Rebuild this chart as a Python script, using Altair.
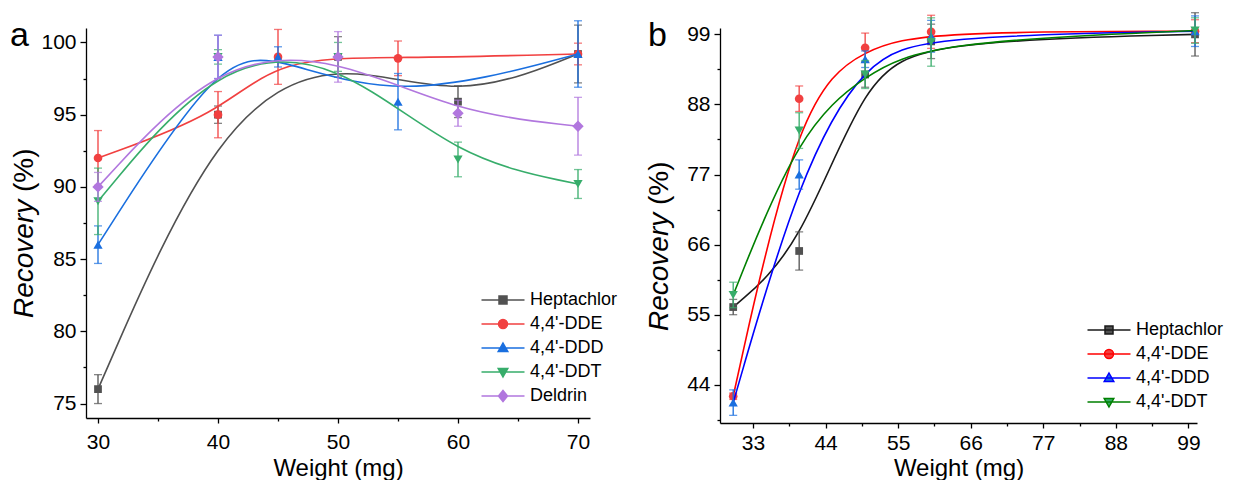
import altair as alt
import pandas as pd

FONT = "Liberation Sans"

# ---------------- Panel a data ----------------
series_a = ["Heptachlor", "4,4'-DDE", "4,4'-DDD", "4,4'-DDT", "Deldrin"]
a_x = {
    "Heptachlor": [30, 40, 50, 60, 70],
    "4,4'-DDE": [30, 40, 45, 55, 70],
    "4,4'-DDD": [30, 40, 45, 55, 70],
    "4,4'-DDT": [30, 40, 50, 60, 70],
    "Deldrin": [30, 40, 50, 60, 70],
}
a_y = {
    "Heptachlor": [76.0, 95.0, 99.0, 95.9, 99.2],
    "4,4'-DDE": [92.0, 95.0, 99.0, 98.9, 99.2],
    "4,4'-DDD": [86.0, 99.0, 99.0, 95.9, 99.2],
    "4,4'-DDT": [89.0, 99.0, 99.0, 91.9, 90.2],
    "Deldrin": [90.0, 99.0, 99.0, 95.1, 94.2],
}
a_err = {
    "Heptachlor": [1.0, 0.6, 1.4, 1.1, 2.0],
    "4,4'-DDE": [1.9, 1.6, 1.9, 1.2, 0.75],
    "4,4'-DDD": [1.3, 1.5, 0.7, 1.95, 2.3],
    "4,4'-DDT": [2.3, 0.5, 1.0, 1.2, 1.0],
    "Deldrin": [1.0, 1.5, 1.75, 0.9, 2.0],
}
a_line_colors = ["#515151", "#F14040", "#1A6FDF", "#37AD6B", "#B177DE"]
a_marker_colors = ["#515151", "#F14040", "#1A6FDF", "#37AD6B", "#B177DE"]
a_shapes = ["square", "circle", "triangle-up", "triangle-down", "diamond"]
a_xticks = [30, 35, 40, 45, 50, 55, 60, 65, 70]
a_yticks = [75, 77.5, 80, 82.5, 85, 87.5, 90, 92.5, 95, 97.5, 100]

# ---------------- Panel b data ----------------
series_b = ["Heptachlor", "4,4'-DDE", "4,4'-DDD", "4,4'-DDT"]
b_x = {s: [30, 40, 50, 60, 100] for s in series_b}
b_y = {
    "Heptachlor": [56.2, 65.0, 92.7, 97.9, 99.0],
    "4,4'-DDE": [42.2, 88.9, 96.9, 99.4, 99.5],
    "4,4'-DDD": [41.2, 77.0, 95.1, 98.7, 99.5],
    "4,4'-DDT": [58.1, 83.9, 92.7, 97.8, 99.6],
}
b_err = {
    "Heptachlor": [1.2, 3.0, 2.0, 2.7, 3.4],
    "4,4'-DDE": [0.5, 2.0, 2.3, 2.6, 1.8],
    "4,4'-DDD": [2.0, 2.3, 1.3, 2.5, 2.4],
    "4,4'-DDT": [2.0, 2.8, 2.2, 3.8, 2.0],
}
b_line_colors = ["#1a1a1a", "#FF0000", "#0000FF", "#008000"]
b_marker_colors = ["#515151", "#F14040", "#1A6FDF", "#37AD6B"]
b_shapes = ["square", "circle", "triangle-up", "triangle-down"]
b_xticks = [33, 38.5, 44, 49.5, 55, 60.5, 66, 71.5, 77, 82.5, 88, 93.5, 99]
b_yticks = [38.5, 44, 49.5, 55, 60.5, 66, 71.5, 77, 82.5, 88, 93.5, 99]

# legend symbol paths: line with marker in the middle
LEG_PATHS = {
    "square": "M-2.15,0H2.15M-0.4,-0.4H0.4V0.4H-0.4Z",
    "circle": "M-2.15,0H2.15M0.45,0A0.45,0.45,0,1,1,-0.45,0A0.45,0.45,0,1,1,0.45,0Z",
    "triangle-up": "M-2.15,0H2.15M0,-0.5L0.48,0.35H-0.48Z",
    "triangle-down": "M-2.15,0H2.15M0,0.5L0.48,-0.35H-0.48Z",
    "diamond": "M-2.15,0H2.15M0,-0.55L0.45,0L0,0.55L-0.45,0Z",
}
MSIZE = {"square": 60, "circle": 75, "triangle-up": 85, "triangle-down": 85, "diamond": 130}


def make_panel(series, xs, ys, es, line_colors, marker_colors, shapes,
               xdom, ydom, xticks, yticks, xmajor, ymajor, width, height,
               leg_x, leg_y, label, label_x, title_x, title_y,
               xlabel_pad, xtitle_pad):
    xaxis = alt.Axis(
        values=xticks, title="Weight (mg)", orient="bottom",
        labelExpr=f"({xmajor}) ? datum.label : ''",
        tickSize={"condition": {"test": xmajor, "value": 5}, "value": 3},
        labelOverlap=False, labelFlush=False,
        labelPadding=xlabel_pad, titlePadding=xtitle_pad,
    )
    yaxis = alt.Axis(
        values=yticks, title=None, orient="left",
        labelExpr=f"({ymajor}) ? datum.label : ''",
        tickSize={"condition": {"test": ymajor, "value": 6}, "value": 3},
        labelOverlap=False,
    )
    xs_ = alt.Scale(domain=xdom, nice=False, zero=False)
    ys_ = alt.Scale(domain=ydom, nice=False, zero=False)
    X = alt.X("x:Q", scale=xs_, axis=xaxis)
    layers = []
    frames = []
    for i, s in enumerate(series):
        df = pd.DataFrame({"series": s, "x": xs[s], "y": ys[s]})
        df["lo"] = df["y"] - pd.Series(es[s])
        df["hi"] = df["y"] + pd.Series(es[s])
        frames.append(df)
        Y = alt.Y("y:Q", scale=ys_, axis=yaxis)
        line = alt.Chart(df).mark_line(
            interpolate="basis", color=line_colors[i], strokeWidth=1.6
        ).encode(x=X, y=Y)
        rule = alt.Chart(df).mark_rule(color=marker_colors[i], strokeWidth=1.3).encode(
            x=X, y=alt.Y("lo:Q", scale=ys_, axis=yaxis), y2="hi:Q")
        caplo = alt.Chart(df).mark_tick(
            orient="horizontal", color=marker_colors[i], size=8, thickness=1.3
        ).encode(x=X, y=alt.Y("lo:Q", scale=ys_, axis=yaxis))
        caphi = alt.Chart(df).mark_tick(
            orient="horizontal", color=marker_colors[i], size=8, thickness=1.3
        ).encode(x=X, y=alt.Y("hi:Q", scale=ys_, axis=yaxis))
        pts = alt.Chart(df).mark_point(
            shape=shapes[i], filled=True, size=MSIZE[shapes[i]],
            color=marker_colors[i], opacity=1
        ).encode(x=X, y=Y)
        layers += [line, rule, caplo, caphi, pts]

    alldf = pd.concat(frames, ignore_index=True)
    leg = alt.Legend(
        title=None, orient="none", legendX=leg_x, legendY=leg_y,
        labelFont=FONT, labelFontSize=18, labelColor="black",
        symbolSize=400, symbolStrokeWidth=1.5, labelOffset=16,
        rowPadding=4, padding=0, labelLimit=300,
    )
    dummy = alt.Chart(alldf).transform_filter("false").mark_point(
        filled=True, size=400, strokeWidth=1.5, opacity=1
    ).encode(
        x=X, y=alt.Y("y:Q", scale=ys_, axis=yaxis),
        fill=alt.Fill("series:N", scale=alt.Scale(domain=series, range=marker_colors), legend=leg),
        stroke=alt.Stroke("series:N", scale=alt.Scale(domain=series, range=line_colors), legend=leg),
        shape=alt.Shape("series:N", scale=alt.Scale(domain=series, range=[LEG_PATHS[s] for s in shapes]), legend=leg),
    )
    layers.append(dummy)

    one = pd.DataFrame({"t": [label]})
    lab = alt.Chart(one).mark_text(
        font=FONT, fontSize=34, align="left", baseline="alphabetic", color="black"
    ).encode(x=alt.value(label_x), y=alt.value(18), text="t:N")
    t1 = alt.Chart(pd.DataFrame({"t": ["Recovery"]})).mark_text(
        font=FONT, fontSize=28, fontStyle="italic", angle=270, align="left",
        baseline="alphabetic", color="black"
    ).encode(x=alt.value(title_x), y=alt.value(title_y), text="t:N")
    t2 = alt.Chart(pd.DataFrame({"t": ["(%)"]})).mark_text(
        font=FONT, fontSize=28, angle=270, align="left",
        baseline="alphabetic", color="black"
    ).encode(x=alt.value(title_x), y=alt.value(title_y - 126), text="t:N")
    layers += [lab, t1, t2]
    return alt.layer(*layers).properties(width=width, height=height)


panel_a = make_panel(
    series_a, a_x, a_y, a_err, a_line_colors, a_marker_colors, a_shapes,
    [29, 71], [74, 101], a_xticks, a_yticks,
    "datum.value % 10 === 0", "datum.value % 5 === 0",
    504, 390, 406, 261, "a", -76, -53, 290, 8, 4,
)
panel_b = make_panel(
    series_b, b_x, b_y, b_err, b_line_colors, b_marker_colors, b_shapes,
    [28, 100.3], [38, 100], b_xticks, b_yticks,
    "abs(datum.value % 11) < 0.01", "abs(datum.value % 11) < 0.01",
    477, 395, 378, 291, "b", -72, -52, 303, 4, 3,
)

chart = alt.hconcat(panel_a, panel_b, spacing=28).resolve_scale(
    fill="independent", stroke="independent", shape="independent"
).resolve_legend(
    fill="independent", stroke="independent", shape="independent"
).properties(
    padding={"left": 2, "top": 4, "right": 2, "bottom": 0},
    background="white",
).configure_view(stroke=None).configure_axis(
    grid=False,
    domainColor="black", domainWidth=1.3,
    tickColor="black", tickWidth=1.3,
    labelFont=FONT, labelFontSize=21, labelColor="black", labelPadding=4,
    titleFont=FONT, titleFontSize=24, titleColor="black", titleFontWeight="normal",
    titlePadding=4,
)

chart.save("out.html", embed_options={"renderer": "svg", "actions": False})
